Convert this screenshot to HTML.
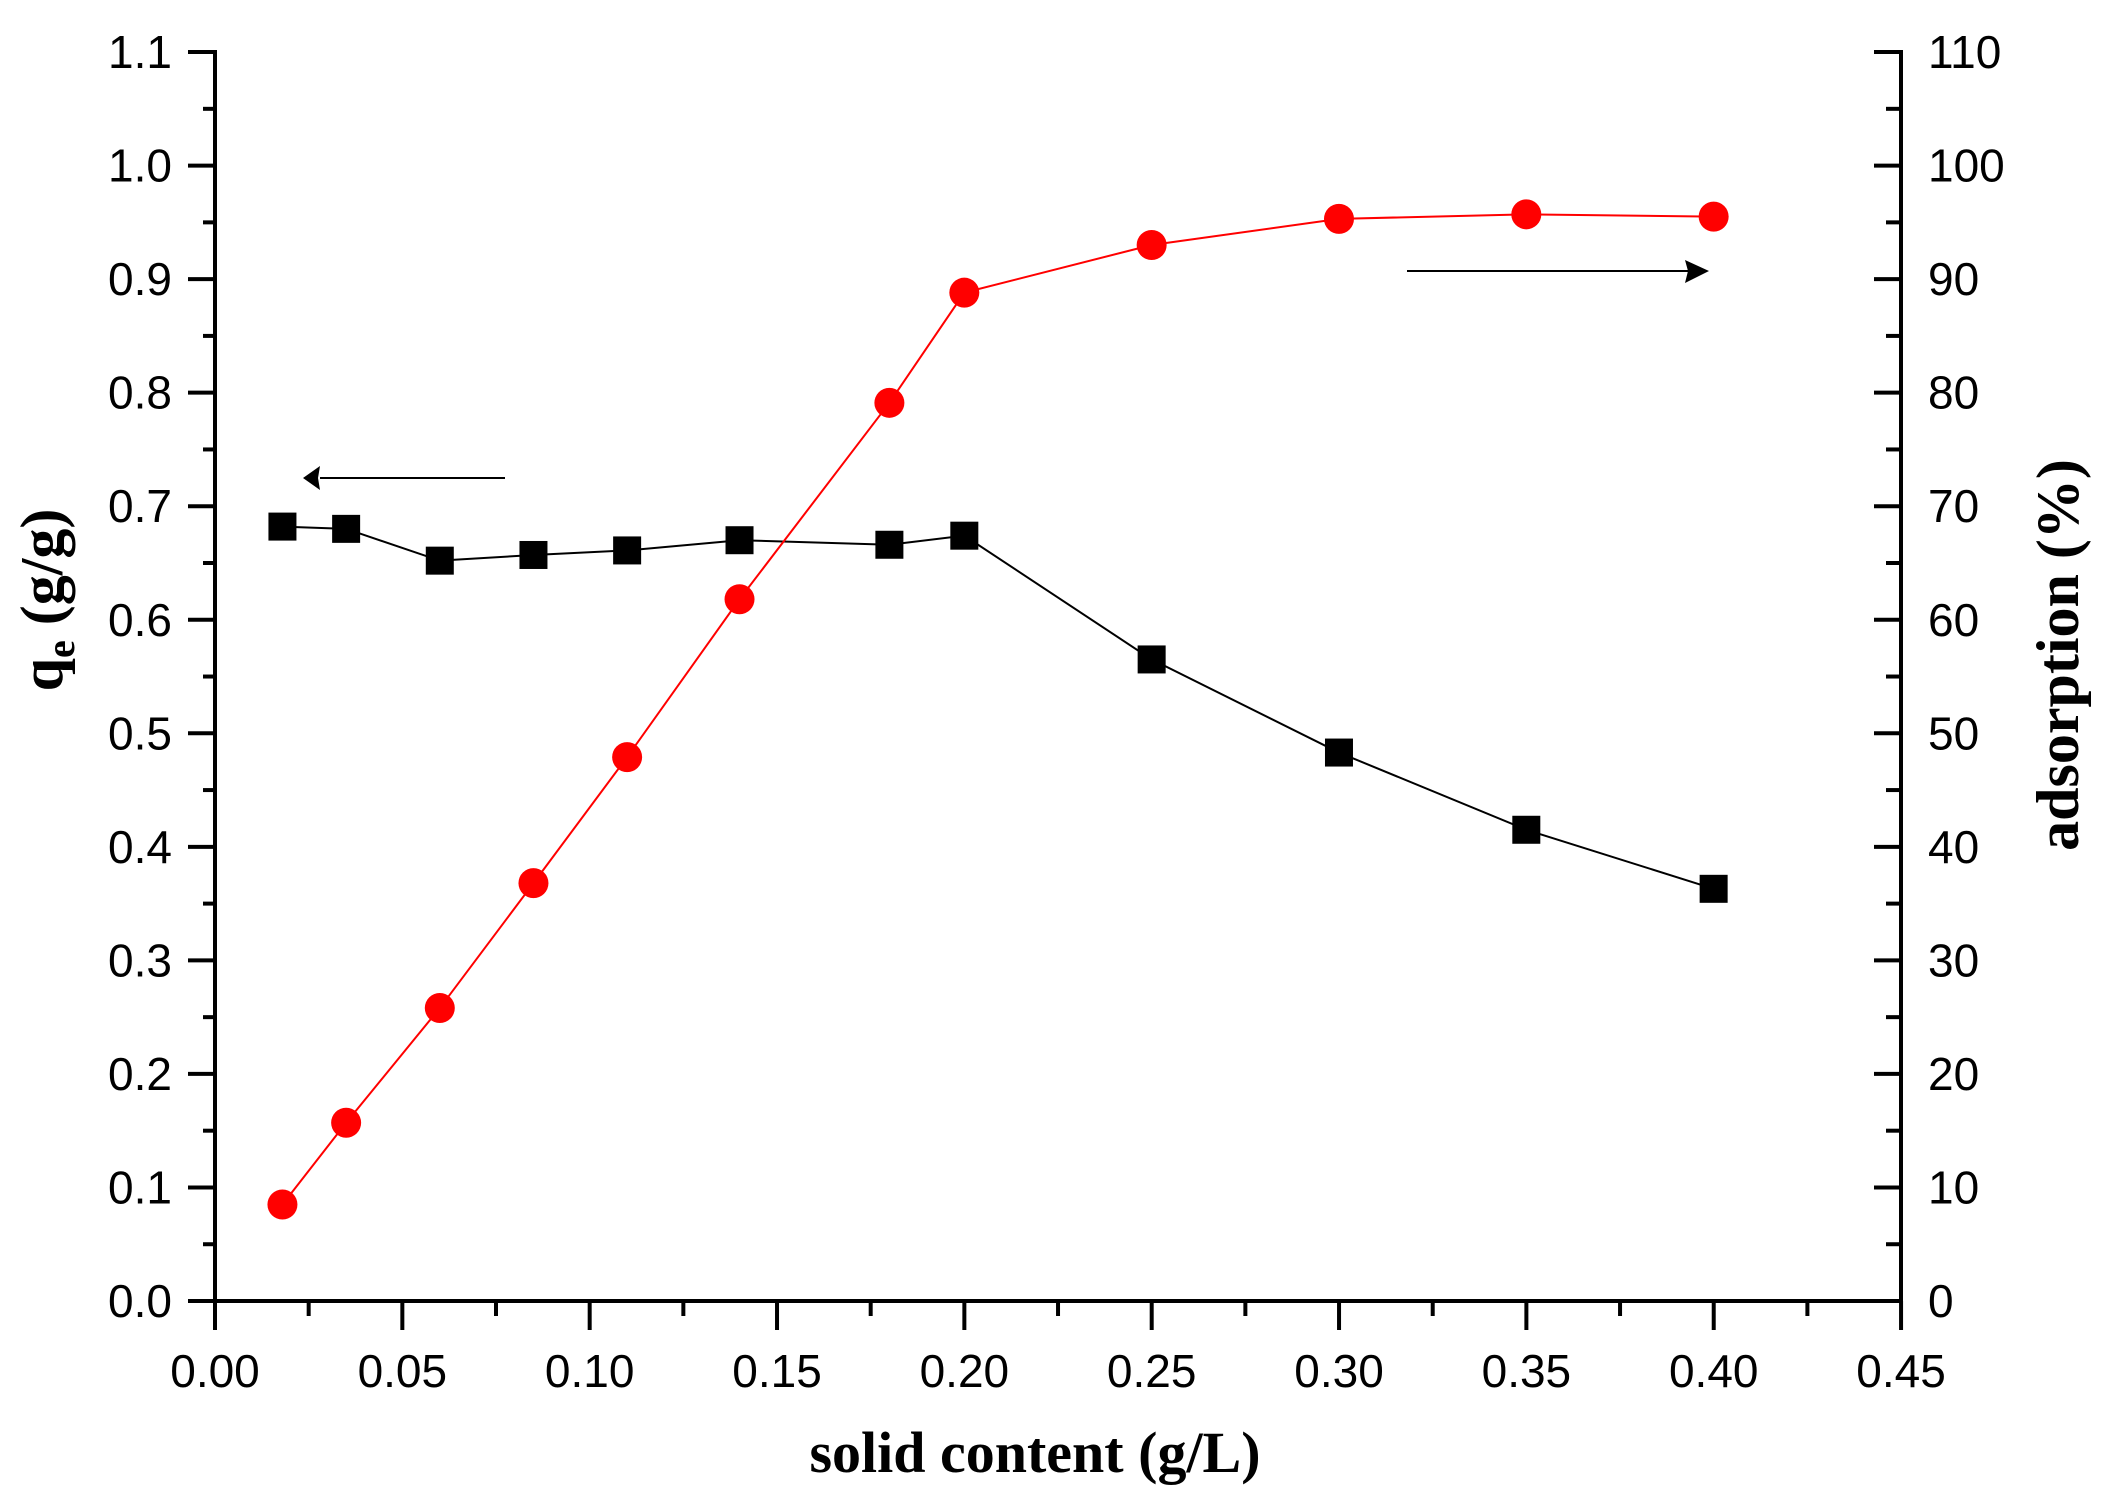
<!DOCTYPE html><html><head><style>body{margin:0;background:#fff}svg{display:block}</style></head><body>
<svg width="2102" height="1497" viewBox="0 0 2102 1497" xmlns="http://www.w3.org/2000/svg">
<rect width="2102" height="1497" fill="#fff"/>
<g id="ax" stroke="#000" stroke-width="4" fill="none">
<line x1="215" y1="50" x2="215" y2="1303"/>
<line x1="1901" y1="50" x2="1901" y2="1303"/>
<line x1="213" y1="1301" x2="1903" y2="1301"/>
</g>
<g id="ticks" stroke="#000" stroke-width="4"></g>
<g id="labels" font-family="Liberation Sans, sans-serif" font-size="46" fill="#000"></g>
<g id="plot"></g>
<line x1="505" y1="478" x2="320" y2="478" stroke="#000" stroke-width="2"/>
<polygon points="303,478 320,466 318,478 320,490" fill="#000"/>
<line x1="1407" y1="271" x2="1690" y2="271" stroke="#000" stroke-width="2"/>
<polygon points="1709,271 1685,260 1688,271 1685,283" fill="#000"/>
<text x="1035" y="1472" font-family="Liberation Serif, serif" font-weight="bold" font-size="58" text-anchor="middle">solid content (g/L)</text>
<text transform="translate(62,600) rotate(-90)" font-family="Liberation Serif, serif" font-weight="bold" font-size="60" text-anchor="middle">q<tspan font-size="40" dy="12">e</tspan><tspan dy="-12"> (g/g)</tspan></text>
<text transform="translate(2078,655) rotate(-90)" font-family="Liberation Serif, serif" font-weight="bold" font-size="60" text-anchor="middle">adsorption (%)</text>
<script>
var ns="http://www.w3.org/2000/svg";
function el(p,t,a,txt){var e=document.createElementNS(ns,t);for(var k in a)e.setAttribute(k,a[k]);if(txt!=null)e.textContent=txt;document.getElementById(p).appendChild(e);return e;}
var X=function(v){return 215+v/0.05*187.33},Y=function(v){return 1301-v*1135.5};
for(var i=0;i<=22;i++){var y=1301-i*56.77;var maj=i%2==0;
el("ticks","line",{x1:maj?188:203,y1:y,x2:215,y2:y});
el("ticks","line",{x1:1901,y1:y,x2:maj?1874:1886,y2:y});
if(maj){el("labels","text",{x:172,y:y+16,"text-anchor":"end"},(i/20).toFixed(1));
el("labels","text",{x:1928,y:y+16},String(i*5));}}
for(var i=0;i<=18;i++){var x=215+i*93.67;var maj=i%2==0;
el("ticks","line",{x1:x,y1:1301,x2:x,y2:maj?1330:1316});
if(maj)el("labels","text",{x:x,y:1387,"text-anchor":"middle"},(i*0.025).toFixed(2));}
var xs=[0.018,0.035,0.06,0.085,0.11,0.14,0.18,0.20,0.25,0.30,0.35,0.40];
var q=[0.682,0.680,0.652,0.657,0.661,0.670,0.666,0.674,0.565,0.483,0.415,0.363];
var a=[8.5,15.7,25.8,36.8,47.9,61.8,79.1,88.8,93.0,95.3,95.7,95.5];
var p1=xs.map(function(x,i){return X(x)+","+Y(q[i])}).join(" ");
var p2=xs.map(function(x,i){return X(x)+","+Y(a[i]/100)}).join(" ");
el("plot","polyline",{points:p1,fill:"none",stroke:"#000","stroke-width":2});
el("plot","polyline",{points:p2,fill:"none",stroke:"#f00","stroke-width":2});
xs.forEach(function(x,i){el("plot","rect",{x:X(x)-14,y:Y(q[i])-14,width:28,height:28,fill:"#000"});
el("plot","circle",{cx:X(x),cy:Y(a[i]/100),r:15,fill:"#f00"});});
</script>
</svg></body></html>
